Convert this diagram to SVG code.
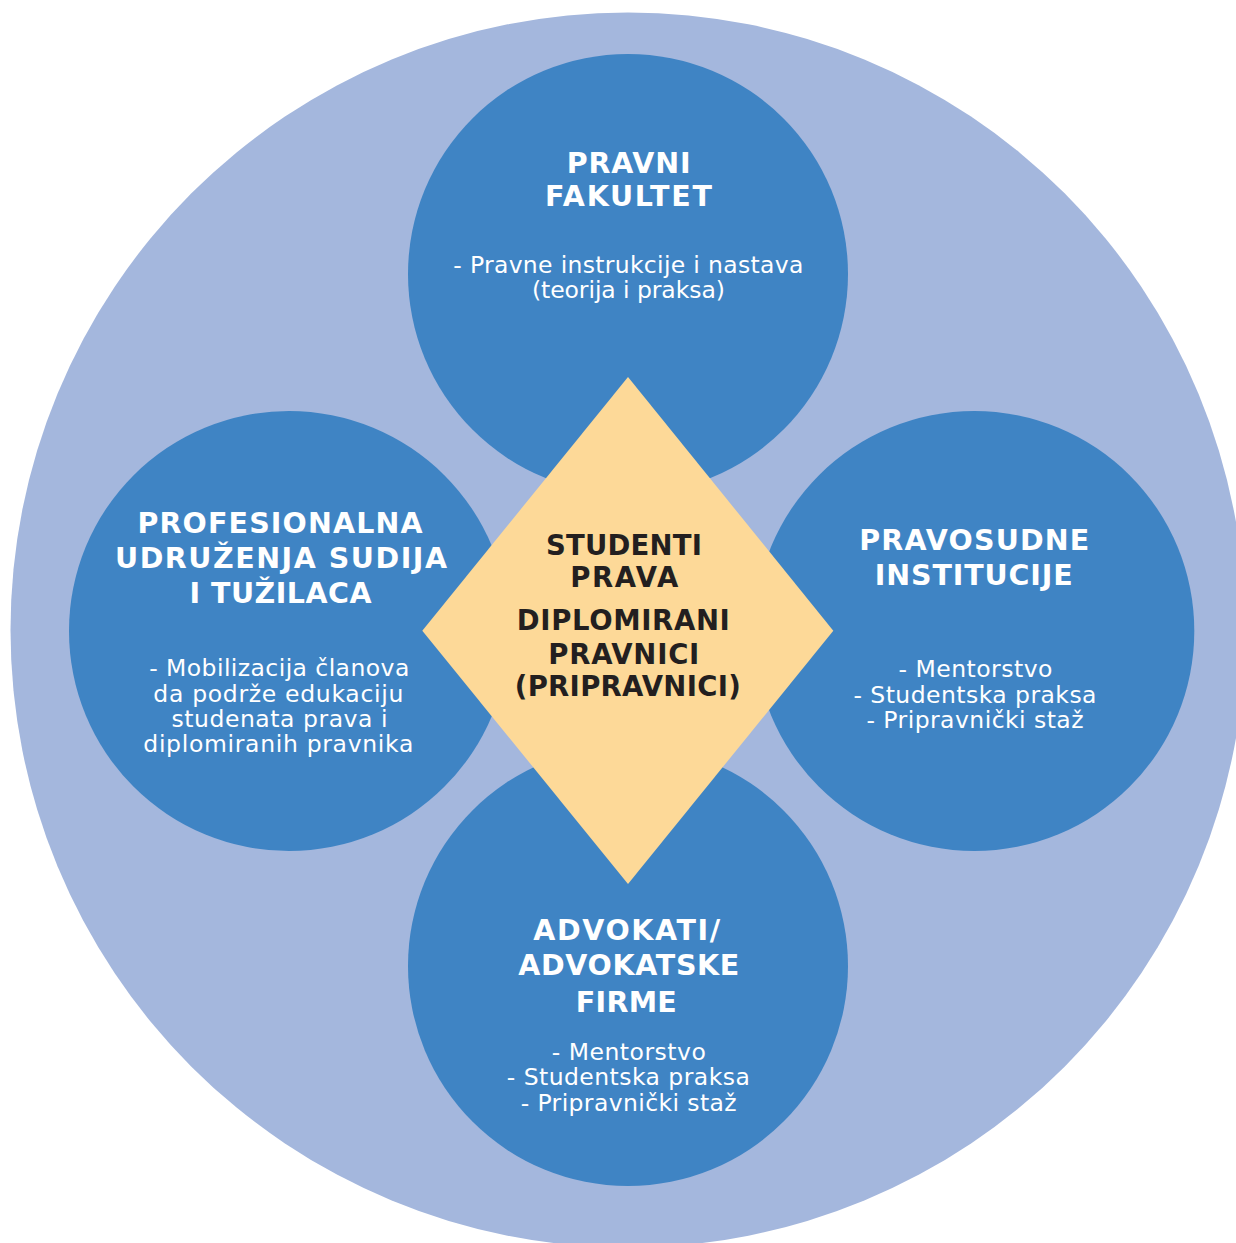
<svg xmlns="http://www.w3.org/2000/svg" width="1236" height="1243" viewBox="0 0 1236 1243">
<style>
.bg{fill:#a4b7dd}
.node{fill:#3f84c4}
.dia{fill:#fdd998}
.h{font-family:"DejaVu Sans","Liberation Sans",sans-serif;font-weight:bold;font-size:28.5px;fill:#ffffff;text-anchor:middle}
.b{font-family:"DejaVu Sans","Liberation Sans",sans-serif;font-size:23.5px;fill:#ffffff;text-anchor:middle}
.c{font-family:"DejaVu Sans","Liberation Sans",sans-serif;font-weight:bold;font-size:27.5px;fill:#231f20;text-anchor:middle}
</style>
<rect width="1236" height="1243" fill="#ffffff"/>
<circle class="bg" cx="628" cy="630" r="617.5"/>
<g id="connectors"></g>
<g id="node-pravni-fakultet">
<circle class="node" cx="628" cy="274" r="220"/>
<text class="h" x="628.7" y="173" textLength="124" lengthAdjust="spacing">PRAVNI</text>
<text class="h" x="628.4" y="206" textLength="167" lengthAdjust="spacing">FAKULTET</text>
<text class="b" x="628.3" y="273" textLength="350" lengthAdjust="spacing">- Pravne instrukcije i nastava</text>
<text class="b" x="628.4" y="298" textLength="193" lengthAdjust="spacing">(teorija i praksa)</text>
</g>
<g id="node-profesionalna">
<circle class="node" cx="289" cy="631" r="220"/>
<text class="h" x="280" y="533" textLength="285" lengthAdjust="spacing">PROFESIONALNA</text>
<text class="h" x="281" y="567.5" textLength="332" lengthAdjust="spacing">UDRUŽENJA SUDIJA</text>
<text class="h" x="280.5" y="602.5" textLength="182" lengthAdjust="spacing">I TUŽILACA</text>
<text class="b" x="279.3" y="676" textLength="260" lengthAdjust="spacing">- Mobilizacija članova</text>
<text class="b" x="278.3" y="701.5" textLength="250" lengthAdjust="spacing">da podrže edukaciju</text>
<text class="b" x="279.5" y="726.5" textLength="216" lengthAdjust="spacing">studenata prava i</text>
<text class="b" x="278.3" y="751.5" textLength="270" lengthAdjust="spacing">diplomiranih pravnika</text>
</g>
<g id="node-pravosudne">
<circle class="node" cx="974.3" cy="631" r="220"/>
<text class="h" x="974.3" y="549.5" textLength="230" lengthAdjust="spacing">PRAVOSUDNE</text>
<text class="h" x="973.8" y="585" textLength="198" lengthAdjust="spacing">INSTITUCIJE</text>
<text class="b" x="975.5" y="677" textLength="154" lengthAdjust="spacing">- Mentorstvo</text>
<text class="b" x="975" y="702.5" textLength="243" lengthAdjust="spacing">- Studentska praksa</text>
<text class="b" x="975" y="728" textLength="217" lengthAdjust="spacing">- Pripravnički staž</text>
</g>
<g id="node-advokati">
<circle class="node" cx="628" cy="966" r="220"/>
<text class="h" x="626.7" y="939.5" textLength="187" lengthAdjust="spacing">ADVOKATI/</text>
<text class="h" x="628.8" y="975" textLength="221" lengthAdjust="spacing">ADVOKATSKE</text>
<text class="h" x="626.3" y="1011.5" textLength="101" lengthAdjust="spacing">FIRME</text>
<text class="b" x="628.8" y="1060" textLength="154" lengthAdjust="spacing">- Mentorstvo</text>
<text class="b" x="628.3" y="1085" textLength="243" lengthAdjust="spacing">- Studentska praksa</text>
<text class="b" x="628.7" y="1110.5" textLength="216" lengthAdjust="spacing">- Pripravnički staž</text>
</g>
<g id="node-studenti">
<polygon class="dia" points="628,377 833.3,630.7 628,884 422.3,630.7"/>
<text class="c" x="624" y="555" textLength="156" lengthAdjust="spacing">STUDENTI</text>
<text class="c" x="624.2" y="587.3" textLength="108" lengthAdjust="spacing">PRAVA</text>
<text class="c" x="623.3" y="630" textLength="213" lengthAdjust="spacing">DIPLOMIRANI</text>
<text class="c" x="623.8" y="664.3" textLength="151" lengthAdjust="spacing">PRAVNICI</text>
<text class="c" x="627.8" y="696" textLength="226" lengthAdjust="spacing">(PRIPRAVNICI)</text>
</g>
</svg>
